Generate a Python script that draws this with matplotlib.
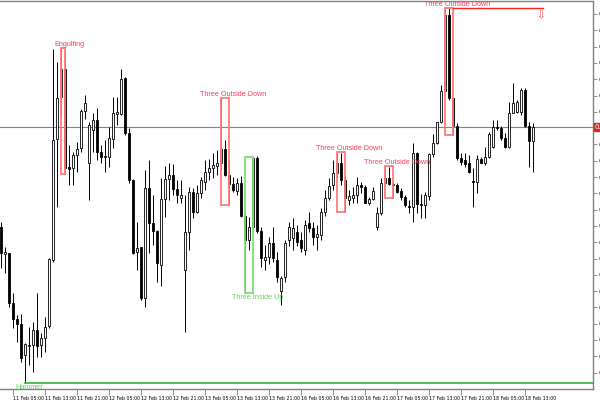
import numpy as np
import matplotlib
matplotlib.use("Agg")
import matplotlib.pyplot as plt
from matplotlib.patches import Rectangle

# hourly candles, price in chart units
OPEN = [173, 146, 147, 97, 81, 76, 45, 54.5, 55, 70,
        55, 62, 74, 140, 261, 303, 331, 233, 232, 245,
        252, 289, 237, 270, 280, 248, 243, 243, 261, 286,
        286, 322, 267, 220, 148, 153, 102, 212, 177, 169,
        135, 201, 221, 225, 211, 202, 130, 168, 208, 188,
        207, 218, 228, 232, 234, 237, 251, 225, 216, 209,
        217, 184, 160, 173, 242, 169, 140, 143, 157, 140,
        109, 123, 160, 162, 168, 160, 150, 177, 172, 163,
        165, 188, 202, 215, 227, 237, 220, 200, 202, 205,
        215, 213, 197, 201, 173, 187, 217, 222, 216, 215,
        209, 203, 194, 193, 247, 196, 195, 204, 246, 257,
        278, 309, 385, 302, 274, 242, 240, 237, 219, 218,
        241, 237, 243, 253, 273, 272, 262, 253, 287, 288,
        288, 310, 274, 259]
HIGH = [178, 153, 147, 107, 85, 86, 57, 73, 78, 107,
        67, 83, 142, 351, 338, 352, 348, 255, 248, 258,
        291, 305, 278, 287, 292, 255, 260, 273, 303, 303,
        331, 323, 272, 221, 178, 153, 230, 240, 205, 170,
        222, 234, 237, 236, 220, 220, 205, 213, 212, 215,
        223, 240, 241, 247, 250, 302, 260, 240, 223, 222,
        224, 188, 183, 243, 244, 173, 155, 163, 173, 148,
        124, 160, 178, 182, 175, 168, 180, 188, 178, 175,
        192, 210, 222, 240, 248, 247, 224, 210, 213, 223,
        218, 215, 203, 213, 193, 222, 234, 233, 217, 217,
        212, 205, 200, 257, 248, 206, 208, 247, 266, 278,
        315, 392, 392, 302, 277, 247, 247, 245, 232, 245,
        243, 253, 268, 280, 280, 274, 267, 298, 317, 300,
        312, 312, 278, 277]
LOW = [132, 127, 93, 72, 58, 38, 17, 35, 28, 43,
       43, 48, 72, 138, 193, 285, 226, 215, 215, 228,
       248, 281, 200, 248, 240, 237, 228, 233, 252, 275,
       285, 265, 217, 146, 130, 100, 93, 147, 155, 118,
       114, 183, 200, 205, 197, 197, 68, 150, 182, 187,
       202, 210, 220, 222, 225, 230, 224, 195, 208, 205,
       183, 107, 150, 171, 167, 133, 130, 136, 138, 118,
       95, 118, 154, 150, 154, 148, 145, 168, 155, 150,
       160, 184, 200, 210, 222, 215, 188, 195, 197, 197,
       207, 197, 195, 200, 170, 185, 215, 215, 202, 207,
       200, 193, 187, 178, 187, 182, 182, 200, 243, 256,
       277, 308, 300, 265, 240, 235, 233, 227, 193, 207,
       237, 235, 242, 252, 270, 260, 252, 252, 287, 287,
       285, 273, 233, 228]
CLOSE = [147, 148, 97, 81, 76, 42, 56, 55.5, 70, 54,
         62, 73, 141, 260, 302, 331, 232, 231, 245, 251,
         289, 297, 275, 280, 248, 243, 244, 262, 287, 288,
         321, 267, 220, 147, 152, 102, 212, 177, 169, 137,
         201, 221, 225, 211, 205, 205, 168, 208, 188, 207,
         220, 228, 232, 235, 237, 251, 225, 216, 210, 217,
         184, 160, 173, 242, 169, 142, 143, 157, 142, 123,
         122, 157, 173, 172, 158, 152, 175, 172, 163, 166,
         188, 202, 214, 227, 237, 220, 202, 204, 205, 215,
         213, 197, 201, 209, 187, 217, 222, 216, 215, 208,
         203, 195, 193.5, 247, 196, 195, 205, 246, 257, 278,
         309, 385, 302, 274, 242, 238, 236, 228, 218, 241,
         237, 243, 266, 273, 272, 262, 253, 287, 297, 298,
         310, 274, 259, 273]

# detected patterns: name, first bar, last bar, bullish?
PAT_NAMES = ["Engulfing", "Three Outside Down", "Three Inside Up",
             "Three Outside Down", "Three Outside Down", "Three Outside Down"]
PAT_START = [15, 55, 61, 84, 96, 111]
PAT_END = [16, 57, 63, 86, 98, 113]
PAT_BULLISH = [False, False, True, False, False, False]
HAMMER_BAR = 6

XTICK_BARS = [-5, 3, 11, 19, 27, 35, 43, 51, 59, 67, 75, 83, 91, 99, 107, 115, 123, 131]
XTICK_LABELS = ["10 Feb 2026", "11 Feb 05:00", "11 Feb 13:00", "11 Feb 21:00",
                "12 Feb 05:00", "12 Feb 13:00", "12 Feb 21:00", "13 Feb 05:00",
                "13 Feb 13:00", "13 Feb 21:00", "16 Feb 05:00", "16 Feb 13:00",
                "16 Feb 21:00", "17 Feb 05:00", "17 Feb 13:00", "17 Feb 21:00",
                "18 Feb 05:00", "18 Feb 13:00"]

RED_BOX = "#ff7b7b"
RED_TXT = "#ff3b5c"
GREEN_BOX = "#7fdc7f"
GREEN_TXT = "#5fd35f"
GRID = "#808080"


def main():
    o = np.array(OPEN)
    h = np.array(HIGH)
    l = np.array(LOW)
    c = np.array(CLOSE)
    x = np.arange(len(o))

    fig = plt.figure(figsize=(6, 4), dpi=100)
    ax = fig.add_axes([0, 11 / 400, 593 / 600, 388 / 400])

    # candles
    up = c >= o
    ax.vlines(x, l, h, color="black", lw=0.7, zorder=2)
    body_lo = np.minimum(o, c)
    body_h = np.maximum(np.abs(c - o), 0.6)
    ax.bar(x[up], body_h[up], bottom=body_lo[up], width=0.5,
           color="white", edgecolor="black", lw=0.6, zorder=3)
    ax.bar(x[~up], body_h[~up], bottom=body_lo[~up], width=0.5,
           color="black", edgecolor="black", lw=0.6, zorder=3)

    # current price line
    ax.axhline(c[-1], color="#b07070", lw=0.8, zorder=1)

    # hammer
    ax.plot([HAMMER_BAR, 148], [l[HAMMER_BAR]] * 2, color="#2fb52f", lw=1.2, zorder=4)
    ax.text(HAMMER_BAR + 1.1, l[HAMMER_BAR] - 1, "Hammer", color=GREEN_TXT,
            fontsize=5.2, family="Liberation Sans", ha="center", va="top",
            clip_on=False, zorder=5)

    # pattern boxes and labels
    for name, s, e, bull in zip(PAT_NAMES, PAT_START, PAT_END, PAT_BULLISH):
        top = h[s:e + 1].max()
        bot = l[s:e + 1].min()
        col = GREEN_BOX if bull else RED_BOX
        ax.add_patch(Rectangle((s, bot), e - s, top - bot, fill=False,
                               edgecolor=col, lw=1.3, zorder=4))
        if bull:
            ax.text(e + 1.1, bot - 1, name, color=GREEN_TXT, fontsize=5.2,
                    family="Liberation Sans", ha="center", va="top", zorder=5)
        else:
            ax.text(e + 1.1, top + 0.5, name, color=RED_TXT, fontsize=5.2,
                    family="Liberation Sans", ha="center", va="bottom", zorder=5)

    # last pattern signal line and arrow
    last_top = h[PAT_START[-1]:PAT_END[-1] + 1].max()
    ax.plot([PAT_END[-1], 135.5], [last_top] * 2, color="#ff2020", lw=1.0, zorder=4)
    ax.text(134.9, last_top - 2, "\u21e9", color="#ff4040", fontsize=7.5,
            ha="center", va="top", zorder=5)

    # axes styling
    for side in ("top", "right", "bottom"):
        ax.spines[side].set_color(GRID)
        ax.spines[side].set_linewidth(1.0)
    ax.spines["left"].set_visible(False)

    ax.yaxis.tick_right()
    yt = 386 - 16.3 * np.arange(23)
    ax.set_yticks(yt)
    ax.set_yticklabels([f"0.{6290 - 10 * k}" for k in range(23)])
    ax.tick_params(axis="y", direction="out", length=3, width=0.6, color=GRID,
                   labelsize=5, pad=1)

    ax.set_xticks(XTICK_BARS)
    ax.set_xticklabels(XTICK_LABELS, ha="left")
    ax.tick_params(axis="x", direction="out", length=4, width=0.6, color=GRID,
                   labelsize=3.4, pad=0.8)
    for lab in ax.get_xticklabels():
        lab.set_family("Liberation Sans Narrow")

    # limits after ticks, so the off-screen first label does not widen the view
    ax.set_xlim(-0.25, 148)
    ax.set_ylim(11, 399)

    # price tag on the axis
    ax.text(1.003, c[-1], "0.6103", transform=ax.get_yaxis_transform(),
            color="white", fontsize=5, va="center", ha="left", clip_on=False,
            bbox=dict(boxstyle="square,pad=0.15", fc="#cc2a2a", ec="#cc2a2a"))

    fig.savefig("out.png", dpi=100)
    plt.close(fig)


if __name__ == "__main__":
    main()
